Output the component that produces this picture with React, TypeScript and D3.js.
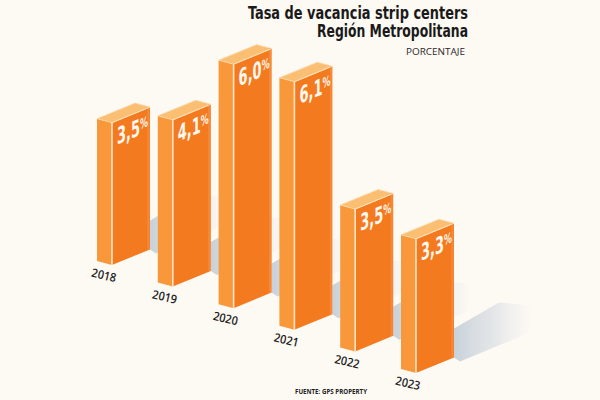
import React from "react";
import * as d3 from "d3";

const years = ["2018", "2019", "2020", "2021", "2022", "2023"];
const values = [3.5, 4.1, 6.0, 6.1, 3.5, 3.3];
const valueLabels = ["3,5", "4,1", "6,0", "6,1", "3,5", "3,3"];
const titleLines = ["Tasa de vacancia strip centers", "Región Metropolitana"];
const subtitle = "PORCENTAJE";
const source = "FUENTE: GPS PROPERTY";

const W = 600;
const H = 400;
const barW = 38;
const slope = -0.41; // front-face tilt
const depthX = -15;
const depthY = -4;
const skewDeg = (Math.atan(slope) * 180) / Math.PI;

const xPos = d3.scalePoint<string>().domain(years).range([112, 416]);
const yBase = d3.scalePoint<string>().domain(years).range([265, 373]);
const hScale = d3.scaleLinear().domain([0, 6]).range([0, 244]);

const pts = (arr: [number, number][]) => arr.map((p) => p.join(",")).join(" ");

export default function App() {
  return (
    <svg
      width={W}
      height={H}
      style={{ position: "absolute", left: 0, top: 0, display: "block" }}
      xmlns="http://www.w3.org/2000/svg"
    >
      <defs>
        <linearGradient id="shadowGrad" x1="0" y1="0" x2="1" y2="0">
          <stop offset="0%" stopColor="#c2cdd7" stopOpacity={0.9} />
          <stop offset="55%" stopColor="#d2d9e0" stopOpacity={0.55} />
          <stop offset="100%" stopColor="#e4e8ec" stopOpacity={0} />
        </linearGradient>
      </defs>
      <rect x={0} y={0} width={W} height={H} fill="#fdf9f3" />

      {/* shadows */}
      {years.map((yr) => {
        const bx = xPos(yr)! + barW;
        const by = yBase(yr)! + slope * barW;
        const poly: [number, number][] = [
          [bx, by - 29],
          [bx + 45, by - 55],
          [bx + 78, by - 52],
          [bx + 74, by - 24],
          [bx + 6, by + 4],
          [bx, by],
        ];
        return <polygon key={"s" + yr} points={pts(poly)} fill="url(#shadowGrad)" />;
      })}

      {/* bars */}
      {years.map((yr, i) => {
        const bx = xPos(yr)!;
        const by = yBase(yr)!;
        const h = hScale(values[i]);
        const rx = bx + barW;
        const ry = by + slope * barW;
        const front: [number, number][] = [
          [bx, by],
          [rx, ry],
          [rx, ry - h],
          [bx, by - h],
        ];
        const side: [number, number][] = [
          [bx + depthX, by + depthY],
          [bx, by],
          [bx, by - h],
          [bx + depthX, by - h + depthY],
        ];
        const top: [number, number][] = [
          [bx, by - h],
          [rx, ry - h],
          [rx + depthX, ry - h + depthY],
          [bx + depthX, by - h + depthY],
        ];
        return (
          <g key={yr}>
            <polygon points={pts(side)} fill="#f8983a" />
            <polygon points={pts(front)} fill="#f47a20" />
            <polygon points={pts(top)} fill="#fbbf74" stroke="#fdd9a8" strokeWidth={0.8} />
            <line x1={bx} y1={by} x2={bx} y2={by - h} stroke="#ffe6c6" strokeWidth={1.6} />
            <line x1={rx - 1.5} y1={ry} x2={rx - 1.5} y2={ry - h} stroke="#f6893a" strokeWidth={2} />
            <line x1={bx} y1={by - h} x2={rx} y2={ry - h} stroke="#ffe0b8" strokeWidth={1} />
            <g transform={`translate(${bx},${by - h}) skewY(${skewDeg})`}>
              <text
                x={5}
                y={24}
                fill="#fff8ee"
                fontFamily="'DejaVu Sans Condensed', 'DejaVu Sans', sans-serif"
                fontWeight="bold"
                fontSize={23}
                textLength={31}
                lengthAdjust="spacingAndGlyphs"
              >
                {valueLabels[i]}
                <tspan fontSize={14} dy={-6}>%</tspan>
              </text>
            </g>
            <text
              x={bx - 8}
              y={by + 10}
              transform={`rotate(13, ${bx - 8}, ${by + 10})`}
              textAnchor="middle"
              dominantBaseline="central"
              fill="#1e1e1e"
              fontFamily="'Open Sans', sans-serif"
              fontWeight={600}
              fontSize={12}
              textLength={25}
              lengthAdjust="spacingAndGlyphs"
            >
              {yr}
            </text>
          </g>
        );
      })}

      {/* titles */}
      <text
        x={468}
        y={18.5}
        textAnchor="end"
        fill="#1a1a1a"
        fontFamily="'DejaVu Sans Condensed', 'DejaVu Sans', sans-serif"
        fontWeight="bold"
        fontSize={17}
        textLength={220}
        lengthAdjust="spacingAndGlyphs"
      >
        {titleLines[0]}
      </text>
      <text
        x={468}
        y={37}
        textAnchor="end"
        fill="#1a1a1a"
        fontFamily="'DejaVu Sans Condensed', 'DejaVu Sans', sans-serif"
        fontWeight="bold"
        fontSize={17}
        textLength={151}
        lengthAdjust="spacingAndGlyphs"
      >
        {titleLines[1]}
      </text>
      <text
        x={465}
        y={55}
        textAnchor="end"
        fill="#2a2a2a"
        fontFamily="'Open Sans', sans-serif"
        fontSize={9}
        textLength={59}
        lengthAdjust="spacingAndGlyphs"
      >
        {subtitle}
      </text>
      <text
        x={295}
        y={394}
        fill="#1e1e1e"
        fontFamily="'Open Sans', sans-serif"
        fontWeight={700}
        fontSize={7}
        textLength={72}
        lengthAdjust="spacingAndGlyphs"
      >
        {source}
      </text>
    </svg>
  );
}
